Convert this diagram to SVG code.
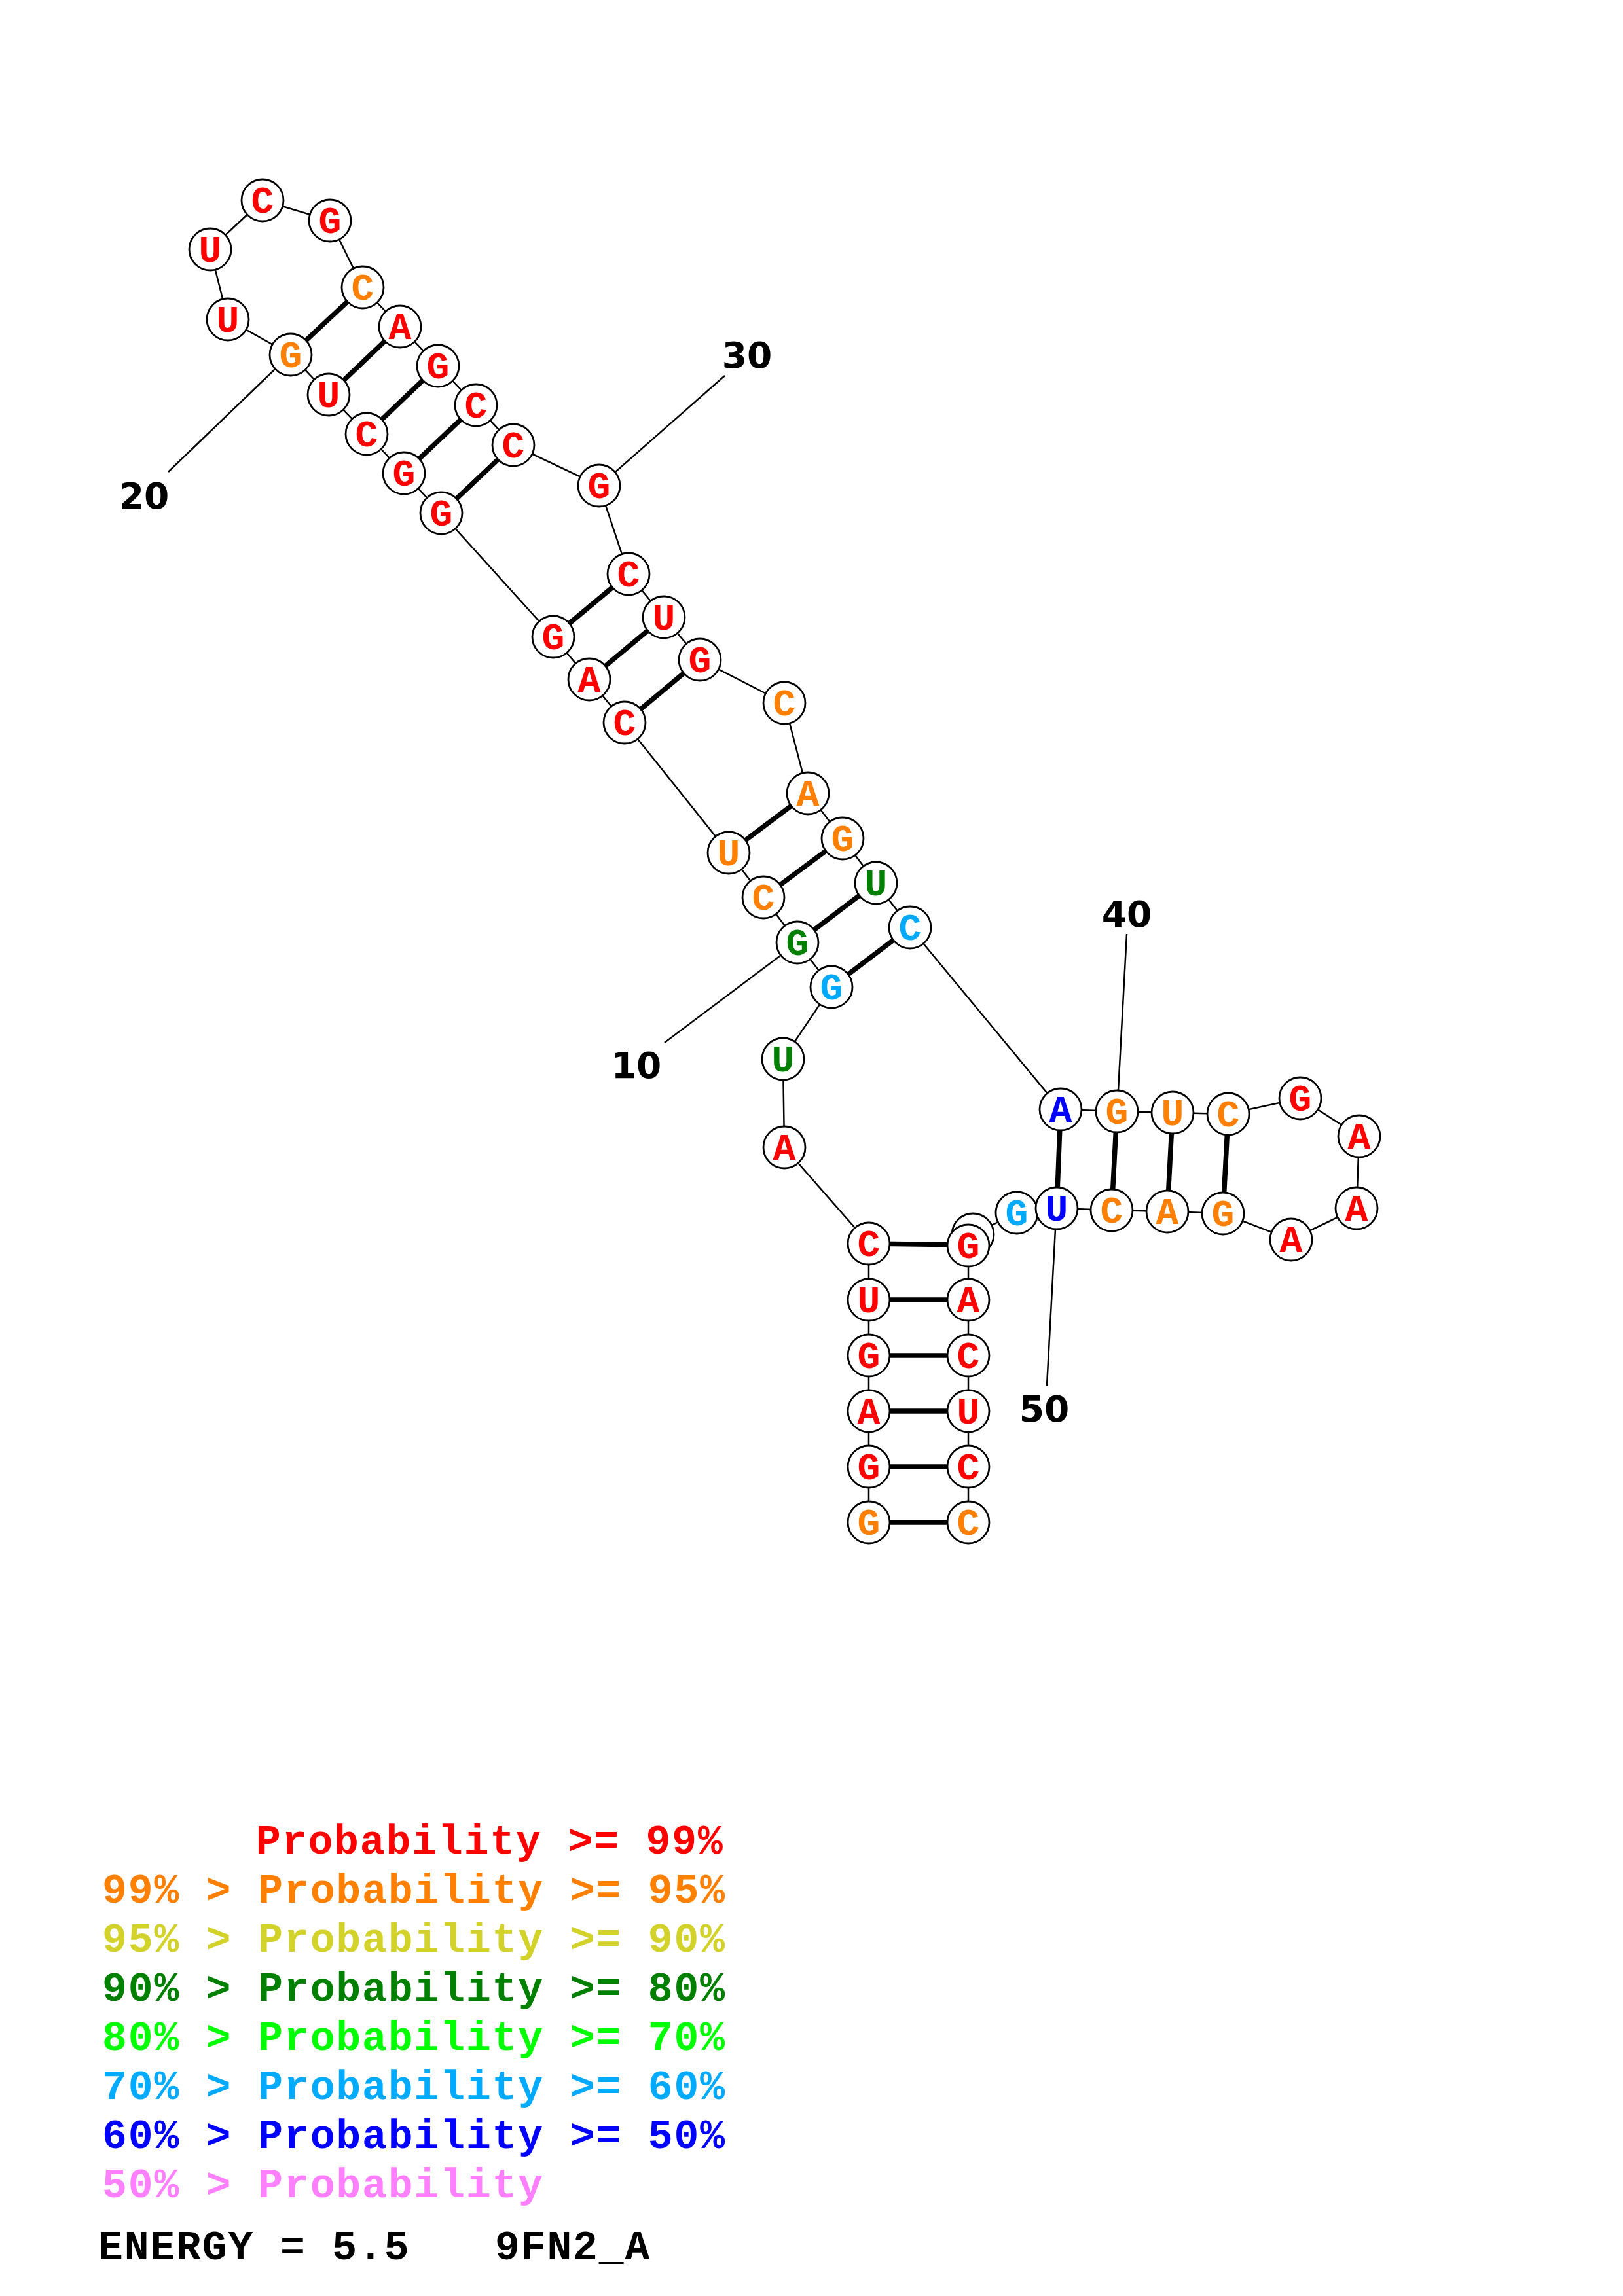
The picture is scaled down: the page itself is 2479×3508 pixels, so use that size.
<svg xmlns="http://www.w3.org/2000/svg" width="2479" height="3508" viewBox="0 0 2479 3508">
<style>
.bb{stroke:#000;stroke-width:2.5;fill:none}
.bp{stroke:#000;stroke-width:7.5;fill:none}
.lab{stroke:#000;stroke-width:2.5;fill:none}
.nc{fill:#fff;stroke:#000;stroke-width:2.8}
.nt{font-family:"Liberation Mono",monospace;font-weight:bold;font-size:58px;text-anchor:middle}
.num{font-family:"DejaVu Sans",sans-serif;font-weight:bold;font-size:55px;text-anchor:middle;fill:#000}
.leg{font-family:"Liberation Mono",monospace;font-weight:bold;font-size:63px;letter-spacing:1.9px}
.r{fill:#FF0000}.o{fill:#FF8000}.y{fill:#D2D22A}.dg{fill:#008000}.g{fill:#00FF00}.lb{fill:#00AAFF}.b{fill:#0000FF}.p{fill:#FF80FF}.k{fill:#000}
</style>
<rect width="2479" height="3508" fill="#fff"/>
<g id="connectors">
<polyline class="bb" points="1327,2326 1327,2241 1327,2156 1327,2071 1327,1986 1327,1900 1198,1753 1196,1618 1270,1508 1218,1440 1166,1371 1113,1303 954,1104 900,1038 845,973 674,784 617,723 560,663 502,603 444,542 348,488 321,381 401,306 504,337 554,439 611,499 669,559 727,619 784,680 915,742 960,877 1014,943 1069,1008 1198,1074 1234,1212 1287,1281 1338,1349 1390,1417 1620,1695 1706,1698 1791,1700 1876,1702 1986,1678 2076,1736 2072,1846 1972,1894 1868,1854 1783,1851 1698,1849 1614,1846 1553,1853 1486,1886 1479,1903 1479,1986 1479,2071 1479,2156 1479,2241 1479,2326"/>
<line class="bp" x1="1327" y1="2326" x2="1479" y2="2326"/>
<line class="bp" x1="1327" y1="2241" x2="1479" y2="2241"/>
<line class="bp" x1="1327" y1="2156" x2="1479" y2="2156"/>
<line class="bp" x1="1327" y1="2071" x2="1479" y2="2071"/>
<line class="bp" x1="1327" y1="1986" x2="1479" y2="1986"/>
<line class="bp" x1="1327" y1="1900" x2="1479" y2="1902"/>
<line class="bp" x1="1270" y1="1508" x2="1390" y2="1417"/>
<line class="bp" x1="1218" y1="1440" x2="1338" y2="1349"/>
<line class="bp" x1="1166" y1="1371" x2="1287" y2="1281"/>
<line class="bp" x1="1113" y1="1303" x2="1234" y2="1212"/>
<line class="bp" x1="954" y1="1104" x2="1069" y2="1008"/>
<line class="bp" x1="900" y1="1038" x2="1014" y2="943"/>
<line class="bp" x1="845" y1="973" x2="960" y2="877"/>
<line class="bp" x1="674" y1="784" x2="784" y2="680"/>
<line class="bp" x1="617" y1="723" x2="727" y2="619"/>
<line class="bp" x1="560" y1="663" x2="669" y2="559"/>
<line class="bp" x1="502" y1="603" x2="611" y2="499"/>
<line class="bp" x1="444" y1="542" x2="554" y2="439"/>
<line class="bp" x1="1620" y1="1695" x2="1614" y2="1846"/>
<line class="bp" x1="1706" y1="1698" x2="1698" y2="1849"/>
<line class="bp" x1="1791" y1="1700" x2="1783" y2="1851"/>
<line class="bp" x1="1876" y1="1702" x2="1868" y2="1854"/>
<line class="lab" x1="1192" y1="1460" x2="1015" y2="1593"/>
<line class="lab" x1="420" y1="564" x2="257" y2="721"/>
<line class="lab" x1="940" y1="721" x2="1107" y2="574"/>
<line class="lab" x1="1708" y1="1666" x2="1721" y2="1427"/>
<line class="lab" x1="1612" y1="1878" x2="1599" y2="2117"/>
</g>
<g id="labels">
<text class="num" x="972" y="1647">10</text>
<text class="num" x="220" y="777">20</text>
<text class="num" x="1141" y="562">30</text>
<text class="num" x="1721" y="1416">40</text>
<text class="num" x="1595" y="2172">50</text>
</g>
<g id="n1"><circle class="nc" cx="1327" cy="2326" r="32"/><text class="nt o" x="1327" y="2345">G</text></g>
<g id="n2"><circle class="nc" cx="1327" cy="2241" r="32"/><text class="nt r" x="1327" y="2260">G</text></g>
<g id="n3"><circle class="nc" cx="1327" cy="2156" r="32"/><text class="nt r" x="1327" y="2175">A</text></g>
<g id="n4"><circle class="nc" cx="1327" cy="2071" r="32"/><text class="nt r" x="1327" y="2090">G</text></g>
<g id="n5"><circle class="nc" cx="1327" cy="1986" r="32"/><text class="nt r" x="1327" y="2005">U</text></g>
<g id="n6"><circle class="nc" cx="1327" cy="1900" r="32"/><text class="nt r" x="1327" y="1919">C</text></g>
<g id="n7"><circle class="nc" cx="1198" cy="1753" r="32"/><text class="nt r" x="1198" y="1772">A</text></g>
<g id="n8"><circle class="nc" cx="1196" cy="1618" r="32"/><text class="nt dg" x="1196" y="1637">U</text></g>
<g id="n9"><circle class="nc" cx="1270" cy="1508" r="32"/><text class="nt lb" x="1270" y="1527">G</text></g>
<g id="n10"><circle class="nc" cx="1218" cy="1440" r="32"/><text class="nt dg" x="1218" y="1459">G</text></g>
<g id="n11"><circle class="nc" cx="1166" cy="1371" r="32"/><text class="nt o" x="1166" y="1390">C</text></g>
<g id="n12"><circle class="nc" cx="1113" cy="1303" r="32"/><text class="nt o" x="1113" y="1322">U</text></g>
<g id="n13"><circle class="nc" cx="954" cy="1104" r="32"/><text class="nt r" x="954" y="1123">C</text></g>
<g id="n14"><circle class="nc" cx="900" cy="1038" r="32"/><text class="nt r" x="900" y="1057">A</text></g>
<g id="n15"><circle class="nc" cx="845" cy="973" r="32"/><text class="nt r" x="845" y="992">G</text></g>
<g id="n16"><circle class="nc" cx="674" cy="784" r="32"/><text class="nt r" x="674" y="803">G</text></g>
<g id="n17"><circle class="nc" cx="617" cy="723" r="32"/><text class="nt r" x="617" y="742">G</text></g>
<g id="n18"><circle class="nc" cx="560" cy="663" r="32"/><text class="nt r" x="560" y="682">C</text></g>
<g id="n19"><circle class="nc" cx="502" cy="603" r="32"/><text class="nt r" x="502" y="622">U</text></g>
<g id="n20"><circle class="nc" cx="444" cy="542" r="32"/><text class="nt o" x="444" y="561">G</text></g>
<g id="n21"><circle class="nc" cx="348" cy="488" r="32"/><text class="nt r" x="348" y="507">U</text></g>
<g id="n22"><circle class="nc" cx="321" cy="381" r="32"/><text class="nt r" x="321" y="400">U</text></g>
<g id="n23"><circle class="nc" cx="401" cy="306" r="32"/><text class="nt r" x="401" y="325">C</text></g>
<g id="n24"><circle class="nc" cx="504" cy="337" r="32"/><text class="nt r" x="504" y="356">G</text></g>
<g id="n25"><circle class="nc" cx="554" cy="439" r="32"/><text class="nt o" x="554" y="458">C</text></g>
<g id="n26"><circle class="nc" cx="611" cy="499" r="32"/><text class="nt r" x="611" y="518">A</text></g>
<g id="n27"><circle class="nc" cx="669" cy="559" r="32"/><text class="nt r" x="669" y="578">G</text></g>
<g id="n28"><circle class="nc" cx="727" cy="619" r="32"/><text class="nt r" x="727" y="638">C</text></g>
<g id="n29"><circle class="nc" cx="784" cy="680" r="32"/><text class="nt r" x="784" y="699">C</text></g>
<g id="n30"><circle class="nc" cx="915" cy="742" r="32"/><text class="nt r" x="915" y="761">G</text></g>
<g id="n31"><circle class="nc" cx="960" cy="877" r="32"/><text class="nt r" x="960" y="896">C</text></g>
<g id="n32"><circle class="nc" cx="1014" cy="943" r="32"/><text class="nt r" x="1014" y="962">U</text></g>
<g id="n33"><circle class="nc" cx="1069" cy="1008" r="32"/><text class="nt r" x="1069" y="1027">G</text></g>
<g id="n34"><circle class="nc" cx="1198" cy="1074" r="32"/><text class="nt o" x="1198" y="1093">C</text></g>
<g id="n35"><circle class="nc" cx="1234" cy="1212" r="32"/><text class="nt o" x="1234" y="1231">A</text></g>
<g id="n36"><circle class="nc" cx="1287" cy="1281" r="32"/><text class="nt o" x="1287" y="1300">G</text></g>
<g id="n37"><circle class="nc" cx="1338" cy="1349" r="32"/><text class="nt dg" x="1338" y="1368">U</text></g>
<g id="n38"><circle class="nc" cx="1390" cy="1417" r="32"/><text class="nt lb" x="1390" y="1436">C</text></g>
<g id="n39"><circle class="nc" cx="1620" cy="1695" r="32"/><text class="nt b" x="1620" y="1714">A</text></g>
<g id="n40"><circle class="nc" cx="1706" cy="1698" r="32"/><text class="nt o" x="1706" y="1717">G</text></g>
<g id="n41"><circle class="nc" cx="1791" cy="1700" r="32"/><text class="nt o" x="1791" y="1719">U</text></g>
<g id="n42"><circle class="nc" cx="1876" cy="1702" r="32"/><text class="nt o" x="1876" y="1721">C</text></g>
<g id="n43"><circle class="nc" cx="1986" cy="1678" r="32"/><text class="nt r" x="1986" y="1697">G</text></g>
<g id="n44"><circle class="nc" cx="2076" cy="1736" r="32"/><text class="nt r" x="2076" y="1755">A</text></g>
<g id="n45"><circle class="nc" cx="2072" cy="1846" r="32"/><text class="nt r" x="2072" y="1865">A</text></g>
<g id="n46"><circle class="nc" cx="1972" cy="1894" r="32"/><text class="nt r" x="1972" y="1913">A</text></g>
<g id="n47"><circle class="nc" cx="1868" cy="1854" r="32"/><text class="nt o" x="1868" y="1873">G</text></g>
<g id="n48"><circle class="nc" cx="1783" cy="1851" r="32"/><text class="nt o" x="1783" y="1870">A</text></g>
<g id="n49"><circle class="nc" cx="1698" cy="1849" r="32"/><text class="nt o" x="1698" y="1868">C</text></g>
<g id="n51"><circle class="nc" cx="1553" cy="1853" r="32"/><text class="nt lb" x="1553" y="1872">G</text></g>
<g id="n50"><circle class="nc" cx="1614" cy="1846" r="32"/><text class="nt b" x="1614" y="1865">U</text></g>
<g id="n52"><circle class="nc" cx="1486" cy="1886" r="32"/></g>
<g id="n53"><circle class="nc" cx="1479" cy="1903" r="32"/><text class="nt r" x="1479" y="1922">G</text></g>
<g id="n54"><circle class="nc" cx="1479" cy="1986" r="32"/><text class="nt r" x="1479" y="2005">A</text></g>
<g id="n55"><circle class="nc" cx="1479" cy="2071" r="32"/><text class="nt r" x="1479" y="2090">C</text></g>
<g id="n56"><circle class="nc" cx="1479" cy="2156" r="32"/><text class="nt r" x="1479" y="2175">U</text></g>
<g id="n57"><circle class="nc" cx="1479" cy="2241" r="32"/><text class="nt r" x="1479" y="2260">C</text></g>
<g id="n58"><circle class="nc" cx="1479" cy="2326" r="32"/><text class="nt o" x="1479" y="2345">C</text></g>
<g id="legend">
<text class="leg r" x="391" y="2832">Probability &gt;= 99%</text>
<text class="leg o" x="156" y="2907">99% &gt; Probability &gt;= 95%</text>
<text class="leg y" x="156" y="2982">95% &gt; Probability &gt;= 90%</text>
<text class="leg dg" x="156" y="3057">90% &gt; Probability &gt;= 80%</text>
<text class="leg g" x="156" y="3132">80% &gt; Probability &gt;= 70%</text>
<text class="leg lb" x="156" y="3207">70% &gt; Probability &gt;= 60%</text>
<text class="leg b" x="156" y="3282">60% &gt; Probability &gt;= 50%</text>
<text class="leg p" x="156" y="3357">50% &gt; Probability</text>
<text class="leg k" x="150" y="3452">ENERGY = 5.5</text>
<text class="leg k" x="756" y="3452">9FN2_A</text>
</g>
</svg>
